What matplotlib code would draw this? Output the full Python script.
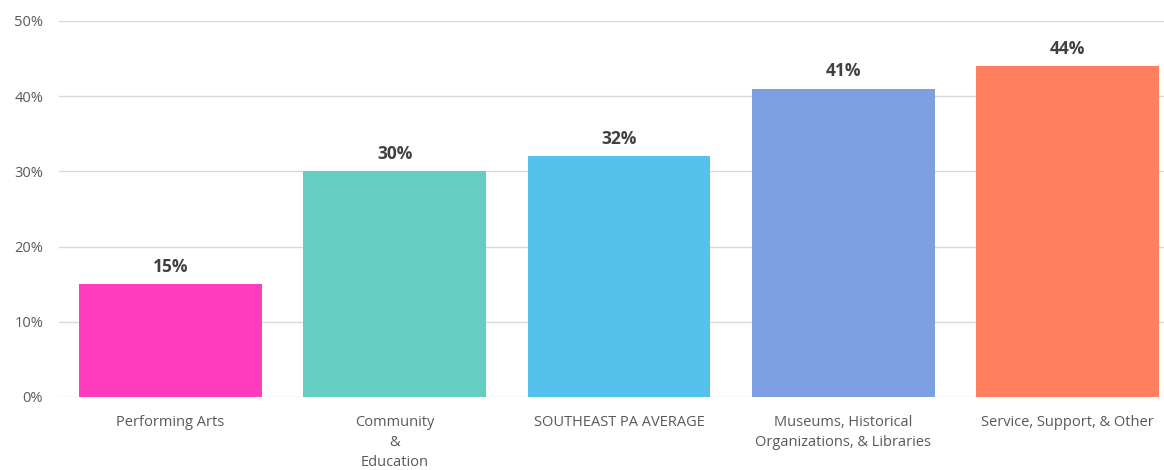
import matplotlib
matplotlib.use("Agg")
from matplotlib import pyplot as plt
import numpy as np

categories = ["Performing Arts", "Community\n&\nEducation", "SOUTHEAST PA AVERAGE",
              "Museums, Historical\nOrganizations, & Libraries", "Service, Support, & Other"]
values = [15, 30, 32, 41, 44]
colors = ["#FF3CBE", "#66CDC2", "#55C2EC", "#7E9FE2", "#FF7F5F"]
yticks = [0, 10, 20, 30, 40, 50]

plt.rcParams['font.family'] = ['Open Sans', 'DejaVu Sans']

fig = plt.figure(figsize=(11.64, 4.70), dpi=100)
ax = fig.add_axes([58.5/1164, 73/470, 1121/1164, 376/470])

x = np.arange(len(values))
ax.bar(x, values, width=0.815, color=colors, zorder=2)
for xi, v in zip(x, values):
    ax.text(xi, v + 1.1, f"{v}%", ha="center", va="bottom",
            fontsize=12.5, fontweight="bold", color="#404040")

ax.set_xlim(-0.5, len(values) - 0.5)
ax.set_ylim(0, 50)
ax.set_yticks(yticks)
ax.set_yticklabels([f"{t}%" for t in yticks], fontsize=10.5, color="#595959")
ax.set_xticks(x)
ax.set_xticklabels(categories, fontsize=10.5, color="#595959", linespacing=1.45, va="top")
ax.tick_params(axis="both", length=0)
ax.tick_params(axis="x", pad=13)
ax.tick_params(axis="y", pad=11)
ax.grid(axis="y", color="#D9D9D9", linewidth=1, zorder=0)
for s in ax.spines.values():
    s.set_visible(False)

fig.savefig("out.png", dpi=100)
